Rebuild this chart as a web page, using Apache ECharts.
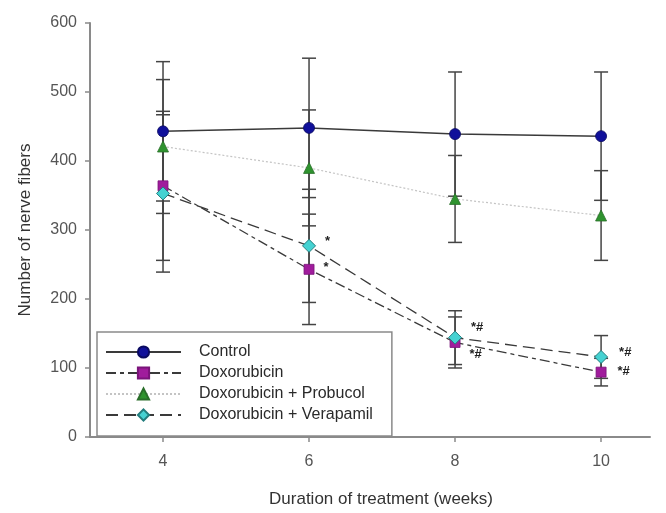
<!DOCTYPE html>
<html>
<head>
<meta charset="utf-8">
<script src="https://cdn.jsdelivr.net/npm/echarts@6/dist/echarts.min.js"></script>
<style>
  html, body { margin: 0; padding: 0; background: #fff; }
  #main { width: 666px; height: 513px; }
</style>
</head>
<body>
<div id="main"></div>
<script>
// weeks of treatment
const weeks = [4, 6, 8, 10]
const xTicks = [4, 6, 8, 10]

// means and SD
const controlMean = [443, 448, 439, 436]
const controlSD = [101, 101, 90, 93]
const doxMean = [364, 243, 137, 94]
const doxSD = [108, 80, 37, 20]
const probucolMean = [421, 390, 345, 321]
const probucolSD = [97, 84, 63, 65]
const verapamilMean = [353, 277, 144, 116]
const verapamilSD = [114, 82, 39, 31]

// significance marks
const doxMarks = ['', '*', '*#', '*#']
const verapamilMarks = ['', '*', '*#', '*#']

const myChart = echarts.init(document.getElementById('main'))

function points (mean) {
  return weeks.map((w, i) => [w, mean[i]])
}

function errorData (mean, sd) {
  return weeks.map((w, i) => [w, mean[i] - sd[i], mean[i] + sd[i]])
}

// vertical error bar with caps
function errorSeries (name, mean, sd) {
  return {
    type: 'custom',
    name: name + ' err',
    data: errorData(mean, sd),
    z: 1,
    silent: true,
    renderItem: function (params, api) {
      const x = api.value(0)
      const lo = api.coord([x, api.value(1)])
      const hi = api.coord([x, api.value(2)])
      const w = 7
      const style = { stroke: '#444', lineWidth: 1.5 }
      return {
        type: 'group',
        children: [
          { type: 'line', shape: { x1: lo[0], y1: lo[1], x2: hi[0], y2: hi[1] }, style: style },
          { type: 'line', shape: { x1: lo[0] - w, y1: lo[1], x2: lo[0] + w, y2: lo[1] }, style: style },
          { type: 'line', shape: { x1: hi[0] - w, y1: hi[1], x2: hi[0] + w, y2: hi[1] }, style: style }
        ]
      }
    }
  }
}

// label offsets for the significance marks
const doxOffsets = [[0, 0], [4, -2], [4, 12], [6, -1]]
const verOffsets = [[0, 0], [4, -4], [4, -10], [6, -5]]

function markedData (mean, marks, offsets) {
  return weeks.map((w, i) => ({
    value: [w, mean[i]],
    label: {
      show: marks[i] !== '',
      formatter: marks[i],
      position: 'right',
      offset: offsets[i],
      color: '#222',
      fontSize: 13,
      fontWeight: 'bold',
      fontFamily: 'Liberation Sans'
    }
  }))
}

const lineSeries = [
  {
    name: 'Control',
    type: 'line',
    data: points(controlMean),
    symbol: 'circle',
    symbolSize: 11,
    itemStyle: { color: '#10109a', borderColor: '#0a0a60', borderWidth: 0.8 },
    lineStyle: { color: '#3a3a3a', width: 1.5, type: 'solid' },
    z: 5
  },
  {
    name: 'Doxorubicin',
    type: 'line',
    data: markedData(doxMean, doxMarks, doxOffsets),
    symbol: 'rect',
    symbolSize: 10,
    itemStyle: { color: '#a01c9c', borderColor: '#7a147a', borderWidth: 0.8 },
    lineStyle: { color: '#3a3a3a', width: 1.3, type: [10, 4, 4, 4] },
    z: 5
  },
  {
    name: 'Doxorubicin + Probucol',
    type: 'line',
    data: points(probucolMean),
    symbol: 'triangle',
    symbolSize: 11,
    itemStyle: { color: '#2f932f', borderColor: '#2a6e2a', borderWidth: 0.8 },
    lineStyle: { color: '#c4c4c4', width: 1.2, type: [2, 2] },
    z: 5
  },
  {
    name: 'Doxorubicin + Verapamil',
    type: 'line',
    data: markedData(verapamilMean, verapamilMarks, verOffsets),
    symbol: 'diamond',
    symbolSize: 13,
    itemStyle: { color: '#45d2d2', borderColor: '#237d7d', borderWidth: 1 },
    lineStyle: { color: '#3a3a3a', width: 1.3, type: [12, 6] },
    z: 6
  }
]

myChart.setOption({
  animation: false,
  backgroundColor: '#fff',
  textStyle: { fontFamily: 'Liberation Sans' },
  grid: { left: 90, right: 16, top: 23, bottom: 75 },
  legend: {
    data: lineSeries.map(s => s.name),
    orient: 'vertical',
    left: 97,
    top: 332,
    padding: [12, 19, 13, 8],
    itemWidth: 75,
    itemHeight: 14,
    itemGap: 5,
    borderColor: '#8a8a8a',
    borderWidth: 1.5,
    textStyle: {
      fontSize: 16,
      color: '#2a2a2a',
      lineHeight: 16,
      padding: [0, 0, 0, 13]
    },
    backgroundColor: '#fff',
    z: 10
  },
  xAxis: {
    type: 'value',
    min: 3,
    max: 10.67,
    name: 'Duration of treatment (weeks)',
    nameLocation: 'middle',
    nameGap: 54,
    nameTextStyle: { fontSize: 17, color: '#333', padding: [0, 0, 0, 22] },
    axisLine: { lineStyle: { color: '#8a8a8a', width: 2 } },
    axisTick: { customValues: xTicks, length: 5, lineStyle: { color: '#8a8a8a', width: 1.5 } },
    axisLabel: { customValues: xTicks, margin: 17, fontSize: 16, color: '#555' },
    splitLine: { show: false }
  },
  yAxis: {
    type: 'value',
    min: 0,
    max: 600,
    interval: 100,
    name: 'Number of nerve fibers',
    nameLocation: 'middle',
    nameGap: 56,
    nameTextStyle: { fontSize: 17, color: '#333' },
    axisLine: { show: true, lineStyle: { color: '#8a8a8a', width: 2 } },
    axisTick: { show: true, length: 5, lineStyle: { color: '#8a8a8a', width: 1.5 } },
    axisLabel: { margin: 13, fontSize: 16, color: '#555' },
    splitLine: { show: false }
  },
  series: [
    errorSeries('Control', controlMean, controlSD),
    errorSeries('Doxorubicin', doxMean, doxSD),
    errorSeries('Doxorubicin + Probucol', probucolMean, probucolSD),
    errorSeries('Doxorubicin + Verapamil', verapamilMean, verapamilSD)
  ].concat(lineSeries)
})
</script>
</body>
</html>
